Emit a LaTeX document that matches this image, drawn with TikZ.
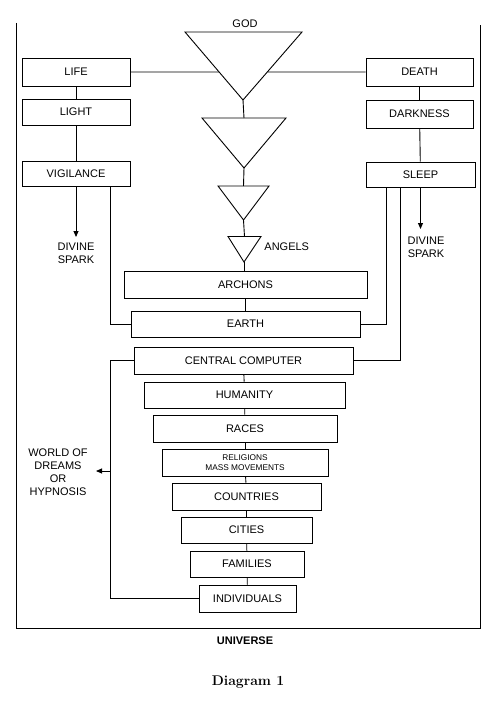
\documentclass[tikz,border=0pt]{standalone}
\usepackage{fontspec}
\newfontfamily\arial{Liberation Sans}
\usetikzlibrary{arrows.meta,calc}
\begin{document}
\begin{tikzpicture}[x=1pt,y=-1pt,
  every path/.style={line width=0.9pt},
  box/.style={draw, line width=0.9pt, inner sep=0pt, font=\arial\fontsize{11}{13}\selectfont},
  lbl/.style={inner sep=0pt, align=center, font=\arial\fontsize{11}{13}\selectfont},
  arr/.style={-{Triangle[length=6pt,width=5pt]}}]
\useasboundingbox (0,0) rectangle (496,709);
% frame
\draw (16,23) -- (16,628) -- (480,628) -- (480,25);
% triangles
\coordinate (t1l) at (185,32); \coordinate (t1r) at (302,32); \coordinate (t1a) at (243,100);
\coordinate (t2l) at (202,118); \coordinate (t2r) at (286,118); \coordinate (t2a) at (244,168);
\coordinate (t3l) at (218,186); \coordinate (t3r) at (269,186); \coordinate (t3a) at (243.5,220);
\coordinate (t4l) at (228,236.5); \coordinate (t4r) at (261,236.5); \coordinate (t4a) at (244,262);
\draw (t1l) -- (t1r) -- (t1a) -- cycle;
\draw (t2l) -- (t2r) -- (t2a) -- cycle;
\draw (t3l) -- (t3r) -- (t3a) -- cycle;
\draw (t4l) -- (t4r) -- (t4a) -- cycle;
\coordinate (t2t) at ($(t2l)!0.5!(t2r)$);
\coordinate (t3t) at ($(t3l)!0.5!(t3r)$);
\coordinate (t4t) at ($(t4l)!0.5!(t4r)$);
\coordinate (godL) at ($(t1l)!0.588!(t1a)$);
\coordinate (godR) at ($(t1r)!0.588!(t1a)$);
\node[lbl] (god) at (245,24) {GOD};
\node[lbl, anchor=west] (angels) at (264,247) {ANGELS};
% side boxes
\node[box, minimum width=108pt, minimum height=28pt] (life) at (76,72) {LIFE};
\node[box, minimum width=108pt, minimum height=26pt] (light) at (76,112) {LIGHT};
\node[box, minimum width=108pt, minimum height=25pt] (vig) at (76,173.5) {VIGILANCE};
\node[box, minimum width=107pt, minimum height=28pt] (death) at (419.5,72) {DEATH};
\node[box, minimum width=107pt, minimum height=28pt] (dark) at (419.5,114) {DARKNESS};
\node[box, minimum width=109pt, minimum height=25pt] (sleep) at (420.5,174.5) {SLEEP};
% central boxes
\node[box, minimum width=243pt, minimum height=27pt] (archons) at (245.5,284.5) {ARCHONS};
\node[box, minimum width=229pt, minimum height=26pt] (earth) at (245.5,324) {EARTH};
\node[box, minimum width=219pt, minimum height=27pt] (cc) at (243.5,360.5) {CENTRAL COMPUTER};
\node[box, minimum width=201pt, minimum height=26pt] (hum) at (244.5,395) {HUMANITY};
\node[box, minimum width=184pt, minimum height=27pt] (races) at (245,428.5) {RACES};
\node[box, minimum width=166pt, minimum height=27pt, align=center, font=\arial\fontsize{8.3}{9.5}\selectfont] (rel) at (245,462.5) {RELIGIONS\\MASS MOVEMENTS};
\node[box, minimum width=149pt, minimum height=27pt] (countries) at (246.5,496.5) {COUNTRIES};
\node[box, minimum width=131pt, minimum height=26pt] (cities) at (246.5,530) {CITIES};
\node[box, minimum width=114pt, minimum height=26pt] (families) at (247,564) {FAMILIES};
\node[box, minimum width=97pt, minimum height=27pt] (indiv) at (247.5,598.5) {INDIVIDUALS};
% labels
\node[lbl] (dsl) at (76,253) {DIVINE\\SPARK};
\node[lbl] (dsr) at (426,247) {DIVINE\\SPARK};
\node[lbl] (world) at (58,472.5) {WORLD OF\\DREAMS\\OR\\HYPNOSIS};
\node[inner sep=0pt, font=\arial\bfseries\fontsize{11}{13}\selectfont] (univ) at (245,641) {UNIVERSE};
\node[inner sep=0pt, font=\fontsize{14}{16}\selectfont\bfseries] (cap) at (248,682) {Diagram 1};
% helper coordinates
\coordinate (vtip) at (76,237);
\coordinate (rtip) at (420.5,229);
\coordinate (vl) at (110,0);
\coordinate (sr1) at (386,0);
\coordinate (sr2) at (400,0);
\coordinate (wl) at (110,598.5);
\coordinate (wa) at (110,471);
\coordinate (watip) at (96,471);
% connectors
\draw (life.east) -- (godL);
\draw (godR) -- (death.west);
\draw (life) -- (light);
\draw (light) -- (vig);
\draw (death) -- (dark);
\draw (dark) -- (sleep);
\draw[arr] (vig.south) -- (vtip);
\draw[arr] (sleep.south) -- (rtip);
\draw (vig.south -| vl) |- (earth.west);
\draw (sleep.south -| sr1) |- (earth.east);
\draw (sleep.south -| sr2) |- (cc.east);
\draw (t1a) -- (t2t);
\draw (t2a) -- (t3t);
\draw (t3a) -- (t4t);
\draw (t4a) -- (archons.north -| t4a);
\draw (archons) -- (earth);
\draw (cc) -- (hum);
\draw (hum) -- (races);
\draw (races) -- (rel);
\draw (rel) -- (countries);
\draw (countries) -- (cities);
\draw (cities) -- (families);
\draw (families) -- (indiv);
\draw (cc.west) -| (wl) -- (indiv.west);
\draw[arr] (wa) -- (watip);
\end{tikzpicture}
\end{document}
